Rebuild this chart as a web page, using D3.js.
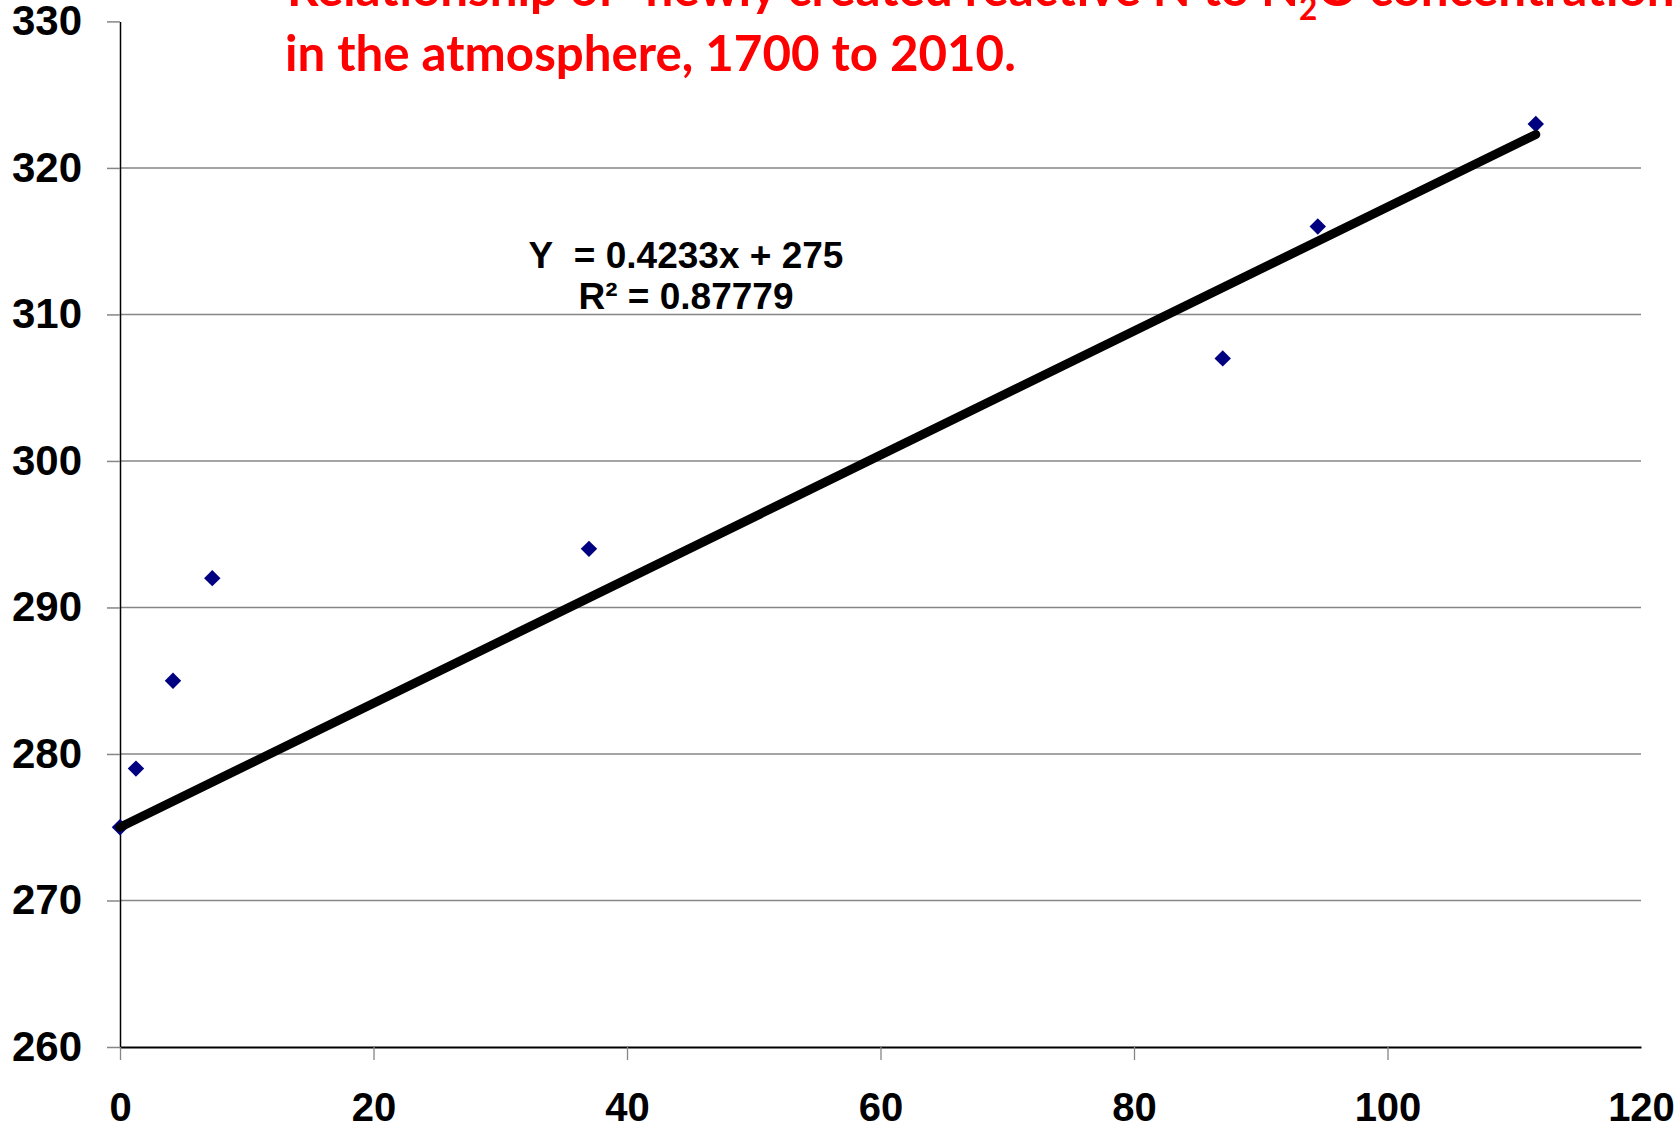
<!DOCTYPE html>
<html>
<head>
<meta charset="utf-8">
<script src="https://cdn.jsdelivr.net/npm/d3@7"></script>
<style>
  html, body { margin: 0; padding: 0; background: #fff; }
  svg { display: block; }
</style>
</head>
<body>
<svg id="chart" width="1680" height="1134"></svg>
<script>
// Newly created reactive N (x) vs. atmospheric N2O concentration (y)
const reactiveN = [0, 1.26, 4.18, 7.28, 37.0, 87.0, 94.5, 111.7];
const n2oConc   = [275, 279, 285, 292, 294, 307, 316, 323];

// Linear fit reported on the chart
const fitSlope = 0.4233;
const fitIntercept = 275;
const fitR2 = "0.87779";

const xTicks = [0, 20, 40, 60, 80, 100, 120];
const yTicks = [260, 270, 280, 290, 300, 310, 320, 330];

const titleLine1 = ["Relationship of \u201cnewly created reactive N to N", "2", "O concentration"];
const titleLine2 = "in the atmosphere, 1700 to 2010.";

const svg = d3.select("#chart");

const x = d3.scaleLinear().domain([0, 120]).range([120, 1641]);
const y = d3.scaleLinear().domain([260, 330]).range([1047, 21.4]);

const axisFont = "'Liberation Sans', Arial, sans-serif";

// Horizontal gridlines
svg.append("g")
  .selectAll("line")
  .data(yTicks.filter(v => v > 260 && v < 330))
  .join("line")
  .attr("x1", x(0)).attr("x2", x(120))
  .attr("y1", d => y(d)).attr("y2", d => y(d))
  .attr("stroke", "#868686")
  .attr("stroke-width", 1.5);

// Y axis
const yAxisG = svg.append("g")
  .attr("transform", `translate(${x(0)},0)`)
  .call(d3.axisLeft(y).tickValues(yTicks).tickSizeInner(13).tickSizeOuter(0).tickPadding(25));
yAxisG.select(".domain").attr("stroke", "#000").attr("stroke-width", 1.5);
yAxisG.selectAll(".tick line").attr("stroke", "#868686").attr("stroke-width", 1.5);
yAxisG.selectAll(".tick text")
  .attr("font-family", axisFont)
  .attr("font-weight", "bold")
  .attr("font-size", 42)
  .attr("fill", "#000");

// X axis
const xAxisG = svg.append("g")
  .attr("transform", `translate(0,${y(260)})`)
  .call(d3.axisBottom(x).tickValues(xTicks).tickSizeInner(13).tickSizeOuter(0).tickPadding(33));
xAxisG.select(".domain").attr("stroke", "#000").attr("stroke-width", 2.2);
xAxisG.selectAll(".tick line")
  .attr("stroke", "#868686").attr("stroke-width", 1.3)
  .attr("display", d => d === 120 ? "none" : null);
xAxisG.selectAll(".tick text")
  .attr("font-family", axisFont)
  .attr("font-weight", "bold")
  .attr("font-size", 40)
  .attr("fill", "#000");

// Data points (navy diamonds)
const pts = reactiveN.map((v, i) => ({ x: v, y: n2oConc[i] }));
svg.append("g")
  .selectAll("path")
  .data(pts)
  .join("path")
  .attr("d", d3.symbol().type(d3.symbolSquare).size(135))
  .attr("transform", d => `translate(${x(d.x)},${y(d.y)}) rotate(45)`)
  .attr("fill", "#000080");

// Linear trend line over the data range
const xMin = d3.min(reactiveN), xMax = d3.max(reactiveN);
const fitPts = [xMin, xMax].map(v => [x(v), y(fitSlope * v + fitIntercept)]);
svg.append("path")
  .attr("d", d3.line()(fitPts))
  .attr("stroke", "#000")
  .attr("stroke-width", 9)
  .attr("stroke-linecap", "round")
  .attr("fill", "none");

// Equation label
const eq = svg.append("g")
  .attr("font-family", axisFont)
  .attr("font-weight", "bold")
  .attr("font-size", 37)
  .attr("fill", "#000")
  .attr("text-anchor", "middle");
eq.append("text").attr("x", 686).attr("y", 268)
  .text(`Y\u00a0 = ${fitSlope}x + ${fitIntercept}`);
eq.append("text").attr("x", 686).attr("y", 309)
  .text(`R\u00b2 = ${fitR2}`);

// Title (red, two lines)
const titleFont = "Lato, 'Open Sans', sans-serif";
function fitWidth(sel, x0, target) {
  const w = sel.node().getBBox().width;
  sel.attr("transform", `translate(${x0},0) scale(${target / w},1) translate(${-x0},0)`);
}
const t1 = svg.append("text")
  .attr("x", 287).attr("y", 6)
  .attr("font-family", titleFont)
  .attr("font-weight", "bold")
  .attr("font-size", 50)
  .attr("fill", "#ff0000");
t1.append("tspan").text(titleLine1[0]);
t1.append("tspan").attr("dy", 14).attr("font-size", 32).text(titleLine1[1]);
t1.append("tspan").attr("dy", -14).text(titleLine1[2]);
fitWidth(t1, 287, 1388);

const t2 = svg.append("text")
  .attr("x", 285).attr("y", 71)
  .attr("font-family", titleFont)
  .attr("font-weight", "bold")
  .attr("font-size", 50)
  .attr("fill", "#ff0000")
  .text(titleLine2);
fitWidth(t2, 285, 731);
</script>
</body>
</html>
